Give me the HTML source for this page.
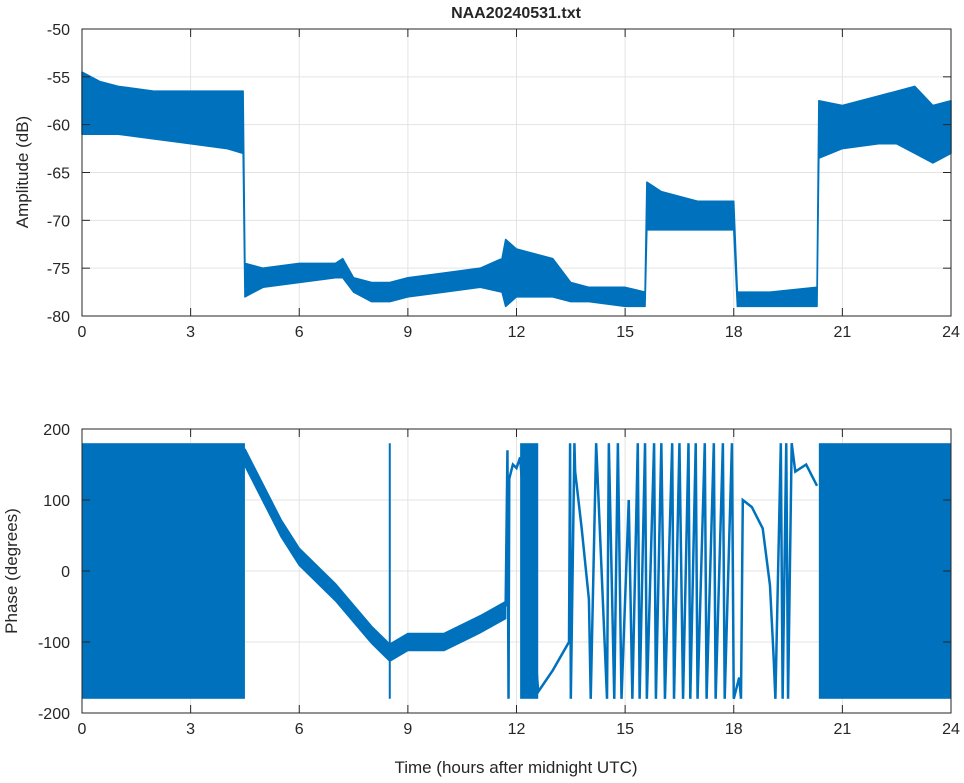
<!DOCTYPE html>
<html><head><meta charset="utf-8"><style>
body{margin:0;background:#fff;}
svg text{font-family:"Liberation Sans",sans-serif;fill:#262626;}
</style></head><body>
<svg id="chart" width="964" height="778" xmlns="http://www.w3.org/2000/svg">
<rect width="964" height="778" fill="#fff"/>
<g id="topPanel"></g><g id="botPanel"></g>
<text x="516" y="18" text-anchor="middle" font-size="16" font-weight="bold" fill="#000">NAA20240531.txt</text>
<text transform="translate(28,172) rotate(-90)" text-anchor="middle" font-size="17">Amplitude (dB)</text>
<text transform="translate(17,571) rotate(-90)" text-anchor="middle" font-size="17">Phase (degrees)</text>
<text x="516" y="773" text-anchor="middle" font-size="17">Time (hours after midnight UTC)</text>
</svg>
<script>
const xTicks=[0,3,6,9,12,15,18,21,24];
const ampTicks=[-50,-55,-60,-65,-70,-75,-80];
const phaseTicks=[200,100,0,-100,-200];
// amplitude envelope: hour, low dB, high dB
const ampHours=[0,0.5,1,2,3,4,4.45,4.5,5,6,7,7.2,7.5,8,8.5,9,10,11,11.6,11.7,12,13,13.5,14,15,15.55,15.6,16,17,18,18.1,19,20.3,20.35,21,22,22.5,23,23.5,24];
const ampLow=[-61,-61,-61,-61.5,-62,-62.5,-63,-78,-77,-76.5,-76,-76,-77.5,-78.5,-78.5,-78,-77.5,-77,-77.5,-79,-78,-78,-78.5,-78.5,-79,-79,-71,-71,-71,-71,-79,-79,-79,-63.5,-62.5,-62,-62,-63,-64,-63];
const ampHigh=[-54.5,-55.5,-56,-56.5,-56.5,-56.5,-56.5,-74.5,-75,-74.5,-74.5,-74,-76,-76.5,-76.5,-76,-75.5,-75,-74,-72,-73,-74,-76.5,-77,-77,-77.5,-66,-67,-68,-68,-77.5,-77.5,-77,-57.5,-58,-57,-56.5,-56,-58,-57.5];
// phase full-range blocks
const phaseBlockStart=[0,12.1,20.35];
const phaseBlockEnd=[4.5,12.6,24];
// phase band around smooth trend
const trendHours=[4.5,5,5.5,6,7,8,8.5,9,10,11,11.7];
const trendDeg=[160,110,60,20,-30,-90,-115,-100,-100,-75,-55];
// phase trace after 11.7 h
const traceHours=[11.7,11.75,11.78,11.8,11.9,12.0,12.1,12.6,13,13.45,13.48,13.5,13.6,13.62,13.8,14.0,14.05,14.2,14.5,14.55,14.7,14.8,14.9,15.1,15.2,15.35,15.4,15.55,15.6,15.8,15.85,16.0,16.1,16.3,16.35,16.5,16.6,16.75,16.8,16.95,17.0,17.2,17.25,17.45,17.5,17.7,17.75,17.95,18.0,18.15,18.2,18.25,18.5,18.8,19.0,19.1,19.15,19.3,19.35,19.45,19.5,19.6,19.7,20.0,20.3];
const traceDeg=[-50,170,-180,130,150,145,160,-170,-140,-100,180,-180,180,140,60,-40,-180,180,-180,180,-180,180,-180,100,-180,180,-180,180,-180,180,-180,180,-180,180,-180,180,-180,180,-180,180,-180,180,-180,180,-180,180,-180,180,-180,-150,-180,100,90,60,-20,-120,-180,180,-180,180,-180,180,140,150,120];
const spikeHour=8.5;
const spikeDeg=[180,-180];

const NS="http://www.w3.org/2000/svg";
const X0=82,X1=951;
const sx=h=>X0+(h/24)*(X1-X0);
const syA=v=>29+(-50-v)/30*(316-29);
const syP=v=>429+(200-v)/400*(713-429);
const blue="#0072BD";
function mk(parent,tag,attrs){const e=document.createElementNS(NS,tag);for(const k in attrs)e.setAttribute(k,attrs[k]);parent.appendChild(e);return e;}
function axes(g,y0,y1,ticks,sy){
  mk(g,'rect',{x:X0,y:y0,width:X1-X0,height:y1-y0,fill:'#fff'});
  xTicks.forEach(t=>{const l=mk(g,'line',{x1:sx(t),x2:sx(t),y1:y0,y2:y1,stroke:'#e3e3e3'});
    
    });
  ticks.forEach(t=>{const l=mk(g,'line',{x1:X0,x2:X1,y1:sy(t),y2:sy(t),stroke:'#e3e3e3'});
    
    });
}
function frame(g,y0,y1,ticks,sy,nm){
  const r=mk(g,'rect',{x:X0,y:y0,width:X1-X0,height:y1-y0,fill:'none',stroke:'#262626','stroke-width':1});
  
  
  xTicks.forEach(t=>{mk(g,'line',{x1:sx(t),x2:sx(t),y1:y1,y2:y1-8,stroke:'#262626'});mk(g,'line',{x1:sx(t),x2:sx(t),y1:y0,y2:y0+8,stroke:'#262626'});
    const tx=mk(g,'text',{x:sx(t),y:y1+21,'text-anchor':'middle','font-size':16});tx.textContent=t;
    
    });
  ticks.forEach(t=>{mk(g,'line',{x1:X0,x2:X0+8,y1:sy(t),y2:sy(t),stroke:'#262626'});mk(g,'line',{x1:X1,x2:X1-8,y1:sy(t),y2:sy(t),stroke:'#262626'});
    const tx=mk(g,'text',{x:X0-12,y:sy(t)+6,'text-anchor':'end','font-size':16});tx.textContent=t;
    
    });
}
const topG=document.getElementById('topPanel');
axes(topG,29,316,ampTicks,syA);
let pts=ampHours.map((h,i)=>sx(h)+','+syA(ampHigh[i]));
pts=pts.concat(ampHours.slice().reverse().map((h,i)=>sx(h)+','+syA(ampLow[ampHours.length-1-i])));
const band=mk(topG,'polygon',{points:pts.join(' '),fill:blue,stroke:blue,'stroke-width':1.5,'stroke-linejoin':'round'});


frame(topG,29,316,ampTicks,syA,'amplitude');

const botG=document.getElementById('botPanel');
axes(botG,429,713,phaseTicks,syP);
phaseBlockStart.forEach((s,i)=>{const r=mk(botG,'rect',{x:sx(s),y:syP(180),width:sx(phaseBlockEnd[i])-sx(s),height:syP(-180)-syP(180),fill:blue});
  
  });
let tp=trendHours.map((h,i)=>sx(h)+','+syP(trendDeg[i]+12));
tp=tp.concat(trendHours.slice().reverse().map((h,i)=>sx(h)+','+syP(trendDeg[trendHours.length-1-i]-12)));
const tb=mk(botG,'polygon',{points:tp.join(' '),fill:blue,stroke:blue,'stroke-width':1.5});


const sp=mk(botG,'line',{x1:sx(spikeHour),x2:sx(spikeHour),y1:syP(spikeDeg[0]),y2:syP(spikeDeg[1]),stroke:blue,'stroke-width':2});


const tr=mk(botG,'polyline',{points:traceHours.map((h,i)=>sx(h)+','+syP(traceDeg[i])).join(' '),fill:'none',stroke:blue,'stroke-width':2.5});


frame(botG,429,713,phaseTicks,syP,'phase');
</script>
</body></html>
